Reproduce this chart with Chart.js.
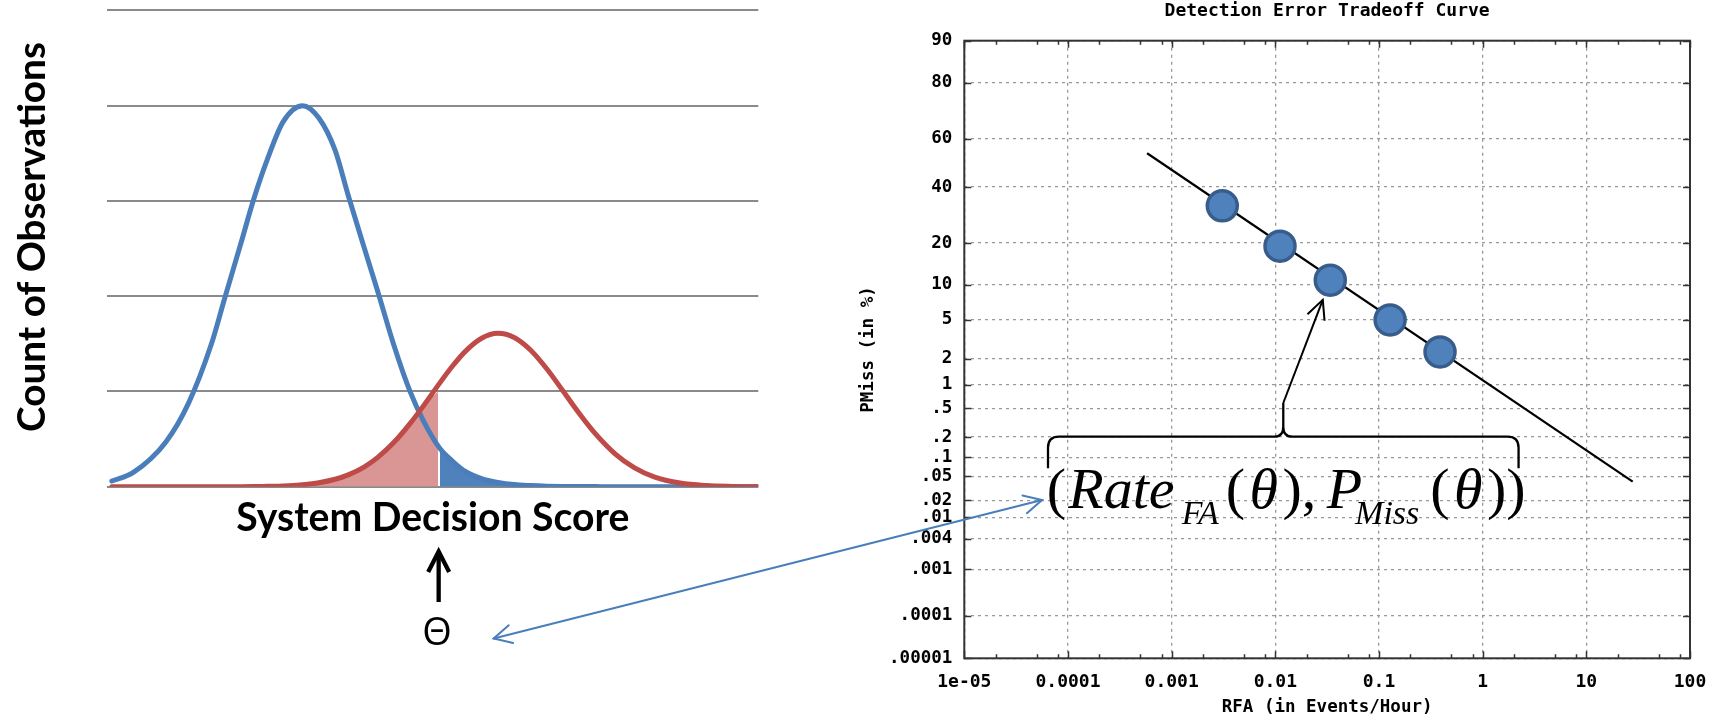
<!DOCTYPE html>
<html>
<head>
<meta charset="utf-8">
<script src="https://cdn.jsdelivr.net/npm/chart.js@4.4.1/dist/chart.umd.min.js"></script>
<style>
  html, body { margin: 0; padding: 0; background: #fff; width: 1725px; height: 718px; overflow: hidden; }
  #wrap { position: relative; width: 1725px; height: 718px; }
  canvas { position: absolute; top: 0; }
  #dist { left: 0; }
  #det { left: 780px; }
  #links { left: 0; pointer-events: none; }
</style>
</head>
<body>
<div id="wrap">
  <canvas id="dist" width="780" height="718"></canvas>
  <canvas id="det" width="945" height="718"></canvas>
  <canvas id="links" width="1725" height="718"></canvas>
</div>
<script>
// ---- Score distributions (left panel) ----
const scoreAxis = [0.7, 4, 9, 12.5, 16, 18, 20.5, 22.5, 24.5, 27, 30, 32.5, 35, 37, 39.5, 41.5, 44, 46.5,
                   48.5, 51, 53, 55, 57.5, 60, 62.5, 65, 67.5, 70, 72.5, 75, 78, 81, 84, 88, 92, 96, 99.9];
const nonTargetCounts = [0.06, 0.15, 0.47, 0.88, 1.50, 1.97, 2.55, 3.02, 3.42, 3.83, 4.00, 3.87, 3.53, 3.06, 2.50,
                         2.06, 1.49, 1.0, 0.70, 0.41, 0.27, 0.16, 0.085, 0.045, 0.022, 0.012, 0.006, 0.003,
                         0.002, 0.001, 0, 0, 0, 0, 0, 0, 0];
const targetCounts = [0, 0, 0, 0, 0, 0, 0, 0.001, 0.004, 0.008, 0.021, 0.041, 0.078, 0.124, 0.209, 0.305, 0.463,
                      0.662, 0.843, 1.082, 1.264, 1.421, 1.558, 1.610, 1.566, 1.435, 1.238, 1.005, 0.769, 0.554,
                      0.345, 0.197, 0.103, 0.038, 0.012, 0.003, 0];
// Misses: targets scoring below the threshold
const missTailScore = [28, 32, 35, 37, 39.5, 41.5, 44, 46.5, 48.5, 50.8];
const missTailCounts = [0, 0.04, 0.09, 0.13, 0.21, 0.305, 0.463, 0.662, 0.843, 1.0];
// False alarms: non-targets scoring above the threshold
const faTailScore = [51.1, 53, 55, 57.5, 60, 62.5, 65, 67.5, 70];
const faTailCounts = [0.40, 0.27, 0.16, 0.085, 0.045, 0.022, 0.012, 0.006, 0.003];
const decisionThreshold = 50.9;

// ---- DET curve (right panel) ----
const detLineRFA = [5.8e-4, 28];
const detLinePMiss = [54.0, 0.041];
const operatingRFA = [3.08e-3, 0.0111, 0.0339, 0.128, 0.388];
const operatingPMiss = [32.6, 19.1, 10.9, 4.96, 2.36];
const highlightedPoint = 2;

const rfaTicks = [1e-5, 1e-4, 1e-3, 1e-2, 1e-1, 1, 10, 100];
const rfaTickLabels = ['1e-05', '0.0001', '0.001', '0.01', '0.1', '1', '10', '100'];
const rfaMinorSteps = [2, 5, 8];
const pmissTicks = [90, 80, 60, 40, 20, 10, 5, 2, 1, 0.5, 0.2, 0.1, 0.05, 0.02, 0.01, 0.004, 0.001, 0.0001, 0.00001];
const pmissTickLabels = ['90', '80', '60', '40', '20', '10', '5', '2', '1', '.5', '.2', '.1', '.05', '.02', '.01',
                         '.004', '.001', '.0001', '.00001'];

// Inverse standard normal CDF (Acklam) – the normal-deviate axis of a DET plot
function probit(p) {
  const a = [-3.969683028665376e+01, 2.209460984245205e+02, -2.759285104469687e+02, 1.383577518672690e+02, -3.066479806614716e+01, 2.506628277459239e+00];
  const b = [-5.447609879822406e+01, 1.615858368580409e+02, -1.556989798598866e+02, 6.680131188771972e+01, -1.328068155288572e+01];
  const c = [-7.784894002430293e-03, -3.223964580411365e-01, -2.400758277161838e+00, -2.549732539343734e+00, 4.374664141464968e+00, 2.938163982698783e+00];
  const d = [7.784695709041462e-03, 3.224671290700398e-01, 2.445134137142996e+00, 3.754408661907416e+00];
  const plow = 0.02425, phigh = 1 - plow;
  if (p < plow) {
    const q = Math.sqrt(-2 * Math.log(p));
    return (((((c[0]*q+c[1])*q+c[2])*q+c[3])*q+c[4])*q+c[5]) / ((((d[0]*q+d[1])*q+d[2])*q+d[3])*q+1);
  }
  if (p <= phigh) {
    const q = p - 0.5, r = q * q;
    return (((((a[0]*r+a[1])*r+a[2])*r+a[3])*r+a[4])*r+a[5])*q / (((((b[0]*r+b[1])*r+b[2])*r+b[3])*r+b[4])*r+1);
  }
  const q = Math.sqrt(-2 * Math.log(1 - p));
  return -(((((c[0]*q+c[1])*q+c[2])*q+c[3])*q+c[4])*q+c[5]) / ((((d[0]*q+d[1])*q+d[2])*q+d[3])*q+1);
}
const pct = v => probit(v / 100);

function fitFontSize(text, family, weight, targetWidth) {
  const c = document.createElement('canvas').getContext('2d');
  c.font = `${weight} 100px ${family}`;
  return 100 * targetWidth / c.measureText(text).width;
}

function arrowHead(ctx, tipX, tipY, fromX, fromY, len, spread) {
  const ang = Math.atan2(fromY - tipY, fromX - tipX);
  ctx.beginPath();
  ctx.moveTo(tipX + len * Math.cos(ang + spread), tipY + len * Math.sin(ang + spread));
  ctx.lineTo(tipX, tipY);
  ctx.lineTo(tipX + len * Math.cos(ang - spread), tipY + len * Math.sin(ang - spread));
  ctx.stroke();
}

const pts = (xs, ys) => xs.map((x, i) => ({ x, y: ys[i] }));
const anchors = {};

// ---------------- Left panel ----------------
const xTitleSize = fitFontSize('System Decision Score', 'Lato', 'bold', 393);
const yTitleSize = fitFontSize('Count of Observations', 'Lato', 'bold', 390);

const scoreAnnotations = {
  id: 'scoreAnnotations',
  afterDraw(chart) {
    const { ctx, scales: { x } } = chart;
    const tx = x.getPixelForValue(decisionThreshold);
    ctx.save();
    ctx.fillStyle = '#000';
    ctx.font = `bold ${yTitleSize}px Lato`;
    ctx.textAlign = 'center';
    ctx.textBaseline = 'alphabetic';
    ctx.translate(45, 237);
    ctx.rotate(-Math.PI / 2);
    ctx.fillText('Count of Observations', 0, 0);
    ctx.restore();

    // threshold pointer
    ctx.save();
    ctx.strokeStyle = '#000';
    ctx.lineWidth = 4.3;
    ctx.beginPath();
    ctx.moveTo(tx, 602);
    ctx.lineTo(tx, 553);
    ctx.stroke();
    ctx.lineJoin = 'miter';
    ctx.beginPath();
    ctx.moveTo(tx - 10.5, 572);
    ctx.lineTo(tx, 551.5);
    ctx.lineTo(tx + 10.5, 572);
    ctx.stroke();
    ctx.fillStyle = '#000';
    ctx.font = '38px "Open Sans"';
    ctx.textAlign = 'center';
    ctx.textBaseline = 'alphabetic';
    ctx.fillText('Θ', tx - 1.6, 645);
    ctx.restore();
    anchors.theta = { x: chart.canvas.offsetLeft + tx + 55, y: 638.5 };
  }
};

new Chart(document.getElementById('dist'), {
  type: 'line',
  data: {
    datasets: [
      { label: 'Misses', data: pts(missTailScore, missTailCounts), fill: 'origin', backgroundColor: '#d99694',
        borderColor: 'transparent', borderWidth: 0, pointRadius: 0, cubicInterpolationMode: 'monotone', order: 4 },
      { label: 'False alarms', data: pts(faTailScore, faTailCounts), fill: 'origin', backgroundColor: '#4f81bd',
        borderColor: 'transparent', borderWidth: 0, pointRadius: 0, cubicInterpolationMode: 'monotone', order: 3 },
      { label: 'Non-target', data: pts(scoreAxis, nonTargetCounts), borderColor: '#4a7ebb', borderWidth: 5,
        pointRadius: 0, fill: false, cubicInterpolationMode: 'monotone', borderCapStyle: 'round', order: 2 },
      { label: 'Target', data: pts(scoreAxis, targetCounts), borderColor: '#be4b48', borderWidth: 5,
        pointRadius: 0, fill: false, cubicInterpolationMode: 'monotone', borderCapStyle: 'round', order: 1 }
    ]
  },
  options: {
    responsive: false, animation: false, events: [],
    layout: { padding: { left: 0, right: 21.7, top: 10.4, bottom: 0 } },
    plugins: { legend: { display: false }, tooltip: { enabled: false } },
    scales: {
      x: {
        type: 'linear', min: 0, max: 100,
        grid: { display: false }, border: { display: false }, ticks: { display: false },
        title: { display: true, text: 'System Decision Score', color: '#000',
                 font: { family: 'Lato', weight: 'bold', size: xTitleSize },
                 padding: { top: 0, bottom: 718 - 0.6 * xTitleSize - 518 } },
        afterFit: s => { s.height = 718 - 486.7; }
      },
      y: {
        min: 0, max: 5,
        ticks: { display: false, stepSize: 1 },
        grid: { color: '#8a8a8a', lineWidth: 2, drawTicks: false },
        border: { display: false },
        afterFit: s => { s.width = 107.3; }
      }
    }
  },
  plugins: [scoreAnnotations]
});

// ---------------- Right panel ----------------
const monoBold = size => ({ family: '"DejaVu Sans Mono"', weight: 'bold', size });

const detDecor = {
  id: 'detDecor',
  beforeDatasetsDraw(chart) {
    const { ctx, chartArea: a, scales: { x, y } } = chart;
    ctx.save();
    ctx.strokeStyle = '#333';
    ctx.lineWidth = 1.5;
    ctx.beginPath();
    rfaTicks.forEach((v, i) => {
      const px = Math.round(x.getPixelForValue(v)) + 0.5;
      ctx.moveTo(px, a.bottom); ctx.lineTo(px, a.bottom - 7);
      ctx.moveTo(px, a.top); ctx.lineTo(px, a.top + 7);
      if (i < rfaTicks.length - 1) {
        rfaMinorSteps.forEach(m => {
          const qx = Math.round(x.getPixelForValue(v * m)) + 0.5;
          ctx.moveTo(qx, a.bottom); ctx.lineTo(qx, a.bottom - 4);
          ctx.moveTo(qx, a.top); ctx.lineTo(qx, a.top + 4);
        });
      }
    });
    pmissTicks.forEach(v => {
      const py = Math.round(y.getPixelForValue(pct(v))) + 0.5;
      ctx.moveTo(a.left, py); ctx.lineTo(a.left + 7, py);
      ctx.moveTo(a.right, py); ctx.lineTo(a.right - 7, py);
    });
    ctx.stroke();
    ctx.lineWidth = 2;
    ctx.strokeRect(a.left, a.top, a.right - a.left, a.bottom - a.top);
    ctx.restore();
  },
  afterDraw(chart) {
    const { ctx, chartArea: a } = chart;
    const serif = '"Liberation Serif", "Times New Roman", serif';
    const fonts = {
      up: `58px ${serif}`,
      it: `italic 58px ${serif}`,
      sub: `italic 34px ${serif}`
    };
    // [text, style, gap after]
    const parts = [['(', 'up', 2.3], ['Rate', 'it', 7.1], ['FA', 'sub', 6.8], ['(', 'up', 4.5], ['θ', 'it', 4.5],
                   [')', 'up', 0], [',', 'up', 10.5], ['P', 'it', -7.1], ['Miss', 'sub', 10.8], ['(', 'up', 4.5],
                   ['θ', 'it', 4.5], [')', 'up', 0], [')', 'up', 0]];
    const fx0 = a.left + 82.4, base = a.top + 467.6;
    ctx.save();
    ctx.fillStyle = '#000';
    ctx.textAlign = 'left';
    ctx.textBaseline = 'alphabetic';
    let cx = fx0;
    parts.forEach(([t, kind, gap]) => {
      ctx.font = fonts[kind];
      ctx.fillText(t, cx, kind === 'sub' ? base + 15.7 : base);
      cx += ctx.measureText(t).width + gap;
    });
    const fx1 = cx;

    // brace over the formula
    const bl = fx0 + 1.3, br = fx1 - 7, by = base - 71.6, bEnd = base - 40;
    const cm = (bl + br) / 2, ctop = by - 33.7;
    ctx.strokeStyle = '#000';
    ctx.lineWidth = 2.3;
    ctx.beginPath();
    ctx.moveTo(bl, bEnd);
    ctx.lineTo(bl, by + 11);
    ctx.quadraticCurveTo(bl, by, bl + 11, by);
    ctx.lineTo(cm - 9, by);
    ctx.quadraticCurveTo(cm, by, cm, by - 10);
    ctx.lineTo(cm, ctop);
    ctx.moveTo(cm, by - 10);
    ctx.quadraticCurveTo(cm, by, cm + 9, by);
    ctx.lineTo(br - 11, by);
    ctx.quadraticCurveTo(br, by, br, by + 11);
    ctx.lineTo(br, bEnd);
    ctx.stroke();

    // pointer from the brace to the highlighted operating point
    const p = chart.getDatasetMeta(1).data[highlightedPoint];
    const dx = cm - p.x, dy = ctop - p.y, L = Math.hypot(dx, dy);
    const tipX = p.x + dx / L * 21, tipY = p.y + dy / L * 21;
    ctx.lineWidth = 2;
    ctx.beginPath();
    ctx.moveTo(cm, ctop);
    ctx.lineTo(tipX, tipY);
    ctx.stroke();
    arrowHead(ctx, tipX, tipY, cm, ctop, 21, 0.45);
    ctx.restore();

    anchors.formula = { x: chart.canvas.offsetLeft + fx0 - 4.7, y: base - 8.3 };
  }
};

new Chart(document.getElementById('det'), {
  type: 'scatter',
  data: {
    datasets: [
      { label: 'DET', data: detLineRFA.map((r, i) => ({ x: r, y: pct(detLinePMiss[i]) })), showLine: true,
        borderColor: '#000', borderWidth: 2.2, pointRadius: 0, order: 2 },
      { label: 'Operating points', data: operatingRFA.map((r, i) => ({ x: r, y: pct(operatingPMiss[i]) })),
        showLine: false, pointRadius: 15, pointBorderWidth: 3.5, pointBackgroundColor: '#4f81bd',
        pointBorderColor: '#385d8a', order: 1 }
    ]
  },
  options: {
    responsive: false, animation: false, events: [],
    layout: { padding: { left: 0, right: 35, top: 0, bottom: 0 } },
    plugins: {
      legend: { display: false }, tooltip: { enabled: false },
      title: { display: true, text: 'Detection Error Tradeoff Curve', color: '#000', fullSize: false,
               font: monoBold(18), padding: { top: 0.9, bottom: 18.2 } }
    },
    scales: {
      x: {
        type: 'logarithmic', min: 1e-5, max: 100,
        afterBuildTicks: s => { s.ticks = rfaTicks.map(v => ({ value: v })); },
        ticks: { autoSkip: false, maxRotation: 0, color: '#000', font: monoBold(18), padding: 13,
                 callback: (v, i) => rfaTickLabels[i] },
        grid: { color: '#999', lineWidth: 1.3, drawTicks: false },
        border: { display: false, dash: [3, 4] },
        title: { display: true, text: 'RFA (in Events/Hour)', color: '#000', font: monoBold(17.5),
                 padding: { top: 0, bottom: 0 } },
        afterFit: s => { s.height = 718 - 658.3; }
      },
      y: {
        type: 'linear', min: pct(0.00001), max: pct(90),
        afterBuildTicks: s => { s.ticks = pmissTicks.map(v => ({ value: pct(v) })); },
        ticks: { autoSkip: false, color: '#000', font: monoBold(17.5), padding: 12,
                 callback: (v, i) => pmissTickLabels[i] },
        grid: { color: '#999', lineWidth: 1.3, drawTicks: false },
        border: { display: false, dash: [3, 4] },
        title: { display: true, text: 'PMiss (in %)', color: '#000', font: monoBold(17.5),
                 padding: { top: 77.8, bottom: 0 } },
        afterFit: s => { s.width = 184.3; }
      }
    }
  },
  plugins: [detDecor]
});

// ---------------- Link between the panels ----------------
(function drawLink() {
  const ctx = document.getElementById('links').getContext('2d');
  const A = anchors.formula, B = anchors.theta;
  if (!A || !B) return;
  ctx.strokeStyle = '#4a7ebb';
  ctx.lineWidth = 2;
  ctx.lineCap = 'round';
  ctx.beginPath();
  ctx.moveTo(A.x, A.y);
  ctx.lineTo(B.x, B.y);
  ctx.stroke();
  arrowHead(ctx, A.x, A.y, B.x, B.y, 20, 0.47);
  arrowHead(ctx, B.x, B.y, A.x, A.y, 20, 0.47);
})();
</script>
</body>
</html>
